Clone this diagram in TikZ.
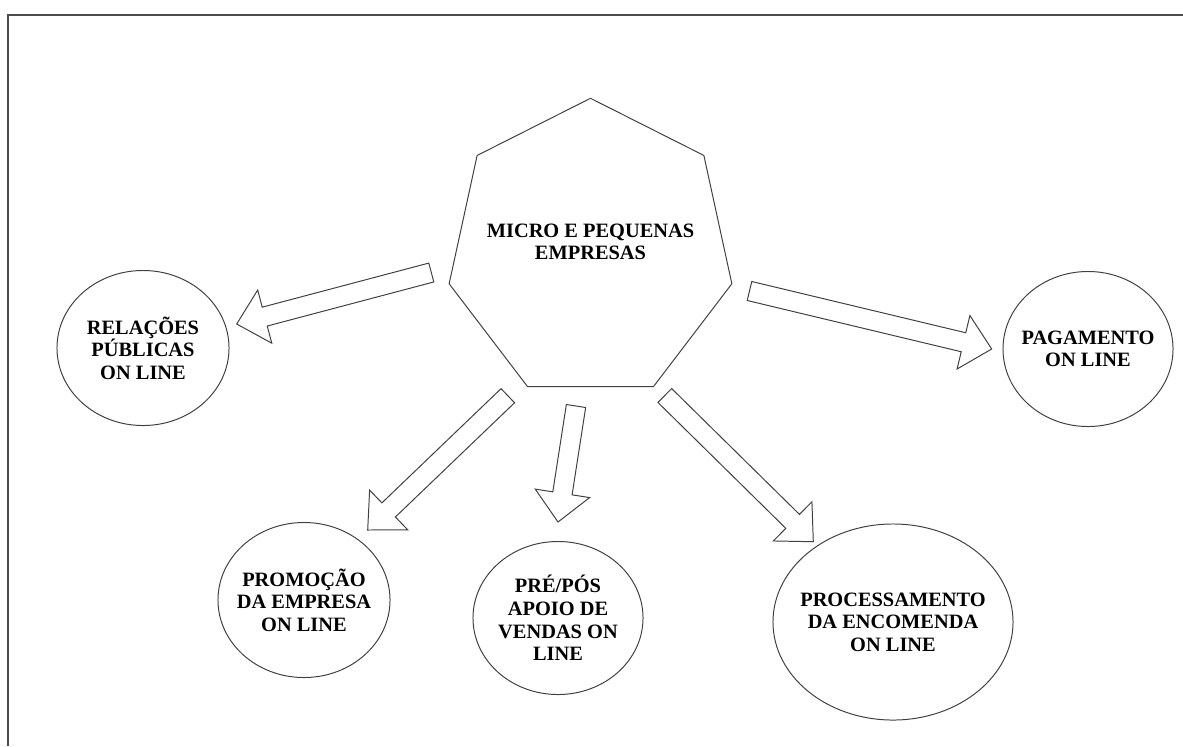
\documentclass[tikz,border=0pt]{standalone}
\usepackage{fontspec}
\setmainfont{Liberation Serif}
\usetikzlibrary{shapes.geometric,calc}
\tikzset{
  outline/.style={draw=black!75, line width=0.7pt},
  bubble/.style={outline, ellipse, inner sep=0pt},
  bubbletext/.style={align=center, font=\bfseries\fontsize{14.5}{16.1}\selectfont},
  blockarrow/.style={outline, fill=white, line join=miter}
}
\newcommand{\drawarrow}[2]{\coordinate (hb) at ($(#2)!0.725cm!(#1)$);
  \draw[blockarrow] ($(#1)!0.244cm!90:(#2)$) -- ($(hb)!0.244cm!90:(#2)$) -- ($(hb)!0.6875cm!90:(#2)$) -- (#2)
    -- ($(hb)!0.6875cm!-90:(#2)$) -- ($(hb)!0.244cm!-90:(#2)$) -- ($(#1)!0.244cm!-90:(#2)$) -- cycle;}

\begin{document}
\begin{tikzpicture}[x=0.025cm, y=-0.025cm]
  \useasboundingbox (0,0) rectangle (1183,746);
  \draw[black!70, line width=0.9pt] (8,746) -- (8,15) -- (1183,15);
  \draw[outline, line join=miter] (590.5,98.3) \foreach \i in {1,...,6} { -- ({590.5+145*cos(90+\i*360/7)},{250-151.7*sin(90+\i*360/7)}) } -- cycle;
  \node[bubbletext] (mpe) at (590.5,242) {MICRO E PEQUENAS\\EMPRESAS};
  \node[bubble, minimum width=4.3cm, minimum height=3.875cm, label={[bubbletext]center:{RELAÇÕES\\PÚBLICAS\\ON LINE}}] (rp) at (143,348) {};
  \node[bubble, minimum width=4.25cm, minimum height=3.875cm, label={[bubbletext]center:{PAGAMENTO\\ON LINE}}] (pag) at (1088,349) {};
  \node[bubble, minimum width=4.3cm, minimum height=3.875cm, label={[bubbletext]center:{PROMOÇÃO\\DA EMPRESA\\ON LINE}}] (prom) at (304,600) {};
  \node[bubble, minimum width=4.25cm, minimum height=3.825cm, label={[bubbletext]center:{PRÉ/PÓS\\APOIO DE\\VENDAS ON\\LINE}}] (pre) at (558,618) {};
  \node[bubble, minimum width=6cm, minimum height=4.9cm, label={[bubbletext]center:{PROCESSAMENTO\\DA ENCOMENDA\\ON LINE}}] (proc) at (893,622) {};
  \coordinate (rp-tail) at (431.3,272.5); \coordinate (rp-tip) at (236.7,324);
  \coordinate (pag-tail) at (749.5,291); \coordinate (pag-tip) at (991.7,349);
  \coordinate (prom-tail) at (507.8,395.7); \coordinate (prom-tip) at (367.7,530);
  \coordinate (pre-tail) at (576,406); \coordinate (pre-tip) at (558,522);
  \coordinate (proc-tail) at (664.8,395.5); \coordinate (proc-tip) at (813.3,541.7);
  \drawarrow{rp-tail}{rp-tip} \drawarrow{pag-tail}{pag-tip} \drawarrow{prom-tail}{prom-tip}
  \drawarrow{pre-tail}{pre-tip} \drawarrow{proc-tail}{proc-tip}
\end{tikzpicture}
\end{document}
